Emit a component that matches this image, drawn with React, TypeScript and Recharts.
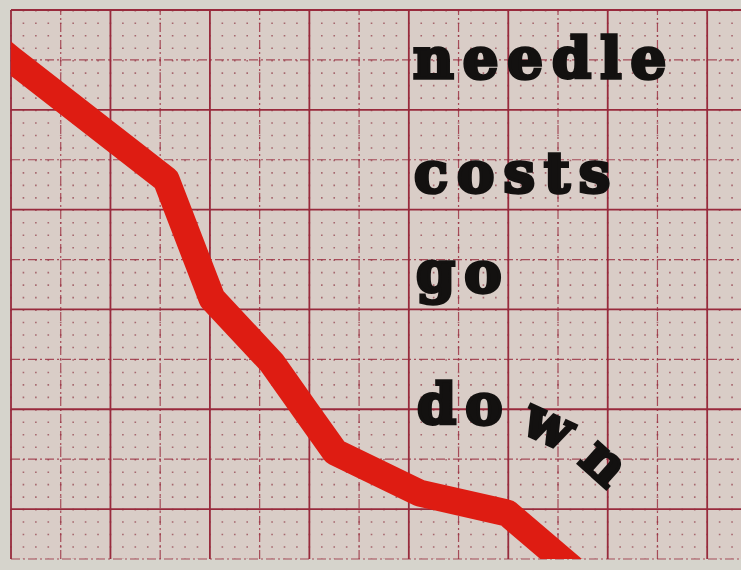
import React from 'react'
import { LineChart, Line, XAxis, YAxis, CartesianGrid, ReferenceLine } from 'recharts'

// cost curve (x: major squares from left, y: major squares above the lowest major line)
const costX = [-0.21, 0, 1.56, 2.02, 2.62, 2.96, 3.26, 4.11, 4.99, 5.72]
const costY = [4.68, 4.51, 3.3, 2.11, 1.47, 0.99, 0.57, 0.16, -0.04, -0.66]

// graph paper rulings
const majorX = [0, 1, 2, 3, 4, 5, 6, 7]
const minorX = [0.5, 1.5, 2.5, 3.5, 4.5, 5.5, 6.5]
const majorY = [0, 1, 2, 3, 4, 5]
const minorY = [-0.5, 0.5, 1.5, 2.5, 3.5, 4.5]
const dotStepsX = Array.from({ length: 59 }, (_, i) => i * 0.125)

const X_DOMAIN: [number, number] = [0, 7.34]
const Y_DOMAIN: [number, number] = [-0.5, 5]

const data = costX.map((x, i) => ({ x, cost: costY[i] }))

const PAPER = '#d9cdc7'
const RULE = '#982a3c'
const INK = '#131110'
const RED = '#de1c12'

const word: React.CSSProperties = {
  position: 'absolute',
  fontFamily: '"DejaVu Serif", serif',
  fontWeight: 900,
  fontSize: 56,
  lineHeight: 1,
  color: INK,
  WebkitTextStroke: `3.4px ${INK}`,
  letterSpacing: 9,
  whiteSpace: 'nowrap',
}

export default function App() {
  return (
    <div
      style={{
        position: 'fixed',
        left: 0,
        top: 0,
        width: 741,
        height: 570,
        background: '#d6d4cc',
        overflow: 'hidden',
      }}
    >
      <LineChart width={741} height={570} data={data} margin={{ top: 10, right: 0, bottom: 11, left: 11 }}>
        <XAxis dataKey="x" type="number" domain={X_DOMAIN} allowDataOverflow hide />
        <YAxis type="number" domain={Y_DOMAIN} allowDataOverflow hide />
        {/* paper + dotted sub-ruling */}
        <CartesianGrid
          fill={PAPER}
          fillOpacity={1}
          horizontal={false}
          stroke="#9a4e58"
          strokeWidth={1.6}
          strokeOpacity={0.8}
          strokeDasharray="1.6 10.87"
          verticalCoordinatesGenerator={({ offset }: any) => {
            const left = offset?.left ?? 11
            const w = offset?.width ?? 730
            return dotStepsX.map((v) => left + ((v - X_DOMAIN[0]) / (X_DOMAIN[1] - X_DOMAIN[0])) * w)
          }}
        />
        {minorX.map((v) => (
          <ReferenceLine key={'mx' + v} x={v} stroke={RULE} strokeWidth={1.2} strokeDasharray="9 3 2 3" strokeOpacity={0.8} />
        ))}
        {minorY.map((v) => (
          <ReferenceLine key={'my' + v} y={v} stroke={RULE} strokeWidth={1.2} strokeDasharray="9 3 2 3" strokeOpacity={0.8} />
        ))}
        {majorX.map((v) => (
          <ReferenceLine key={'MX' + v} x={v} stroke={RULE} strokeWidth={1.8} />
        ))}
        {majorY.map((v) => (
          <ReferenceLine key={'MY' + v} y={v} stroke={RULE} strokeWidth={1.8} />
        ))}
        <Line
          type="linear"
          dataKey="cost"
          stroke={RED}
          strokeWidth={27}
          strokeLinejoin="round"
          strokeLinecap="butt"
          dot={false}
          activeDot={false}
          isAnimationActive={false}
        />
      </LineChart>

      <span style={{ ...word, left: 413, top: 30 }}>needle</span>
      <span style={{ ...word, left: 414, top: 144 }}>costs</span>
      <span style={{ ...word, left: 416, top: 244 }}>go</span>
      <span style={{ ...word, left: 417, top: 376 }}>do</span>
      <span style={{ ...word, left: 525, top: 397, transform: 'rotate(25deg)' }}>w</span>
      <span style={{ ...word, left: 584, top: 436, transform: 'rotate(42deg)' }}>n</span>
    </div>
  )
}
